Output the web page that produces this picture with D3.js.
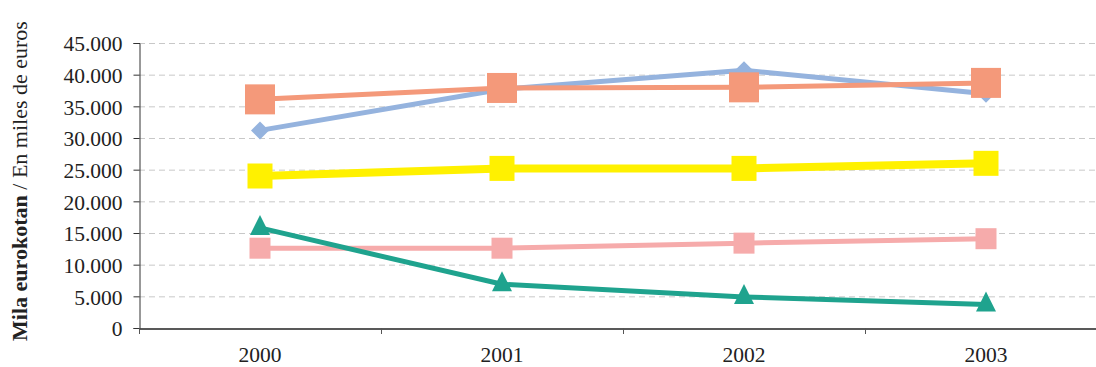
<!DOCTYPE html>
<html>
<head>
<meta charset="utf-8">
<script src="https://cdn.jsdelivr.net/npm/d3@7"></script>
<style>
  body { margin: 0; background: #fff; }
  svg { display: block; font-family: "Liberation Serif", "DejaVu Serif", serif; }
</style>
</head>
<body>
<div id="chart"></div>
<script>
// Datos
const years = ["2000", "2001", "2002", "2003"];
const yTicks = [0, 5000, 10000, 15000, 20000, 25000, 30000, 35000, 40000, 45000];

const salmonValues = [36100, 37900, 38000, 38700];
const blueValues   = [31200, 37700, 40700, 37000];
const yellowValues = [24000, 25200, 25200, 26000];
const pinkValues   = [12600, 12600, 13400, 14100];
const tealValues   = [15800, 6900, 4900, 3700];

const width = 1096, height = 367;
const margin = { top: 43, right: -11, bottom: 39, left: 139 };

const svg = d3.select("#chart").append("svg")
    .attr("width", width)
    .attr("height", height);

const x = d3.scaleBand()
    .domain(years)
    .range([margin.left, width - margin.right]);

const y = d3.scaleLinear()
    .domain([0, 45000])
    .range([height - margin.bottom, margin.top]);

const fmt = d => d3.format(",")(d).replace(/,/g, ".");

// rejilla
svg.append("g")
    .selectAll("line")
    .data(yTicks.filter(d => d > 0))
    .enter().append("line")
    .attr("x1", margin.left)
    .attr("x2", width)
    .attr("y1", d => y(d) + 0.5)
    .attr("y2", d => y(d) + 0.5)
    .attr("stroke", "#c8c8c8")
    .attr("stroke-width", 1)
    .attr("stroke-dasharray", "6,4");

// eje Y
const yAxis = svg.append("g")
    .attr("transform", `translate(${margin.left + 0.5},0)`)
    .call(d3.axisLeft(y).tickValues(yTicks).tickFormat(fmt).tickSize(6).tickPadding(11));
yAxis.select(".domain").attr("stroke", "#333");
yAxis.selectAll(".tick line").attr("stroke", "#333");
yAxis.selectAll("text")
    .attr("font-size", 21.5)
    .attr("fill", "#222")
    .attr("font-family", "Liberation Serif, serif")
    .attr("dy", "0.36em");

// eje X
const xAxis = svg.append("g")
    .attr("transform", `translate(0,${y(0) + 0.5})`)
    .call(d3.axisBottom(x).tickSize(0).tickPadding(18));
xAxis.select(".domain").attr("stroke", "#222").attr("stroke-width", 1.5);
xAxis.selectAll("text")
    .attr("font-size", 21.5)
    .attr("fill", "#222")
    .attr("font-family", "Liberation Serif, serif");

// marcas entre categorias
svg.append("g")
    .selectAll("line")
    .data(years)
    .enter().append("line")
    .attr("x1", d => x(d) + 0.5)
    .attr("x2", d => x(d) + 0.5)
    .attr("y1", y(0))
    .attr("y2", y(0) + 6)
    .attr("stroke", "#555");

// titulo eje Y
const title = svg.append("text")
    .attr("transform", `translate(27,181) rotate(-90)`)
    .attr("text-anchor", "middle")
    .attr("font-size", 22)
    .attr("fill", "#222");
title.append("tspan").attr("font-weight", "bold").text("Mila eurokotan");
title.append("tspan").text(" / En miles de euros");

const cx = d => x(d) + x.bandwidth() / 2;

const series = [
    { values: pinkValues,   color: "#F6ABAB", width: 5,   shape: "square",   size: 21 },
    { values: tealValues,   color: "#1FA38E", width: 5,   shape: "triangle", size: 20 },
    { values: yellowValues, color: "#FFF100", width: 8,   shape: "square",   size: 25 },
    { values: blueValues,   color: "#95B3DE", width: 5,   shape: "diamond",  size: 18 },
    { values: salmonValues, color: "#F4997A", width: 5,   shape: "square",   size: 30 }
];

const line = d3.line()
    .x(d => cx(d.year))
    .y(d => y(d.value));

series.forEach(s => {
    const pts = years.map((yr, i) => ({ year: yr, value: s.values[i] }));
    svg.append("path")
        .datum(pts)
        .attr("fill", "none")
        .attr("stroke", s.color)
        .attr("stroke-width", s.width)
        .attr("d", line);

    const g = svg.append("g").attr("fill", s.color);
    pts.forEach(p => {
        const px = cx(p.year), py = y(p.value), h = s.size / 2;
        if (s.shape === "square") {
            g.append("rect")
                .attr("x", px - h).attr("y", py - h)
                .attr("width", s.size).attr("height", s.size);
        } else if (s.shape === "triangle") {
            g.append("path")
                .attr("d", `M${px},${py - h - 3}L${px + h},${py + h - 3}L${px - h},${py + h - 3}Z`);
        } else {
            g.append("path")
                .attr("d", `M${px},${py - h}L${px + h},${py}L${px},${py + h}L${px - h},${py}Z`);
        }
    });
});
</script>
</body>
</html>
